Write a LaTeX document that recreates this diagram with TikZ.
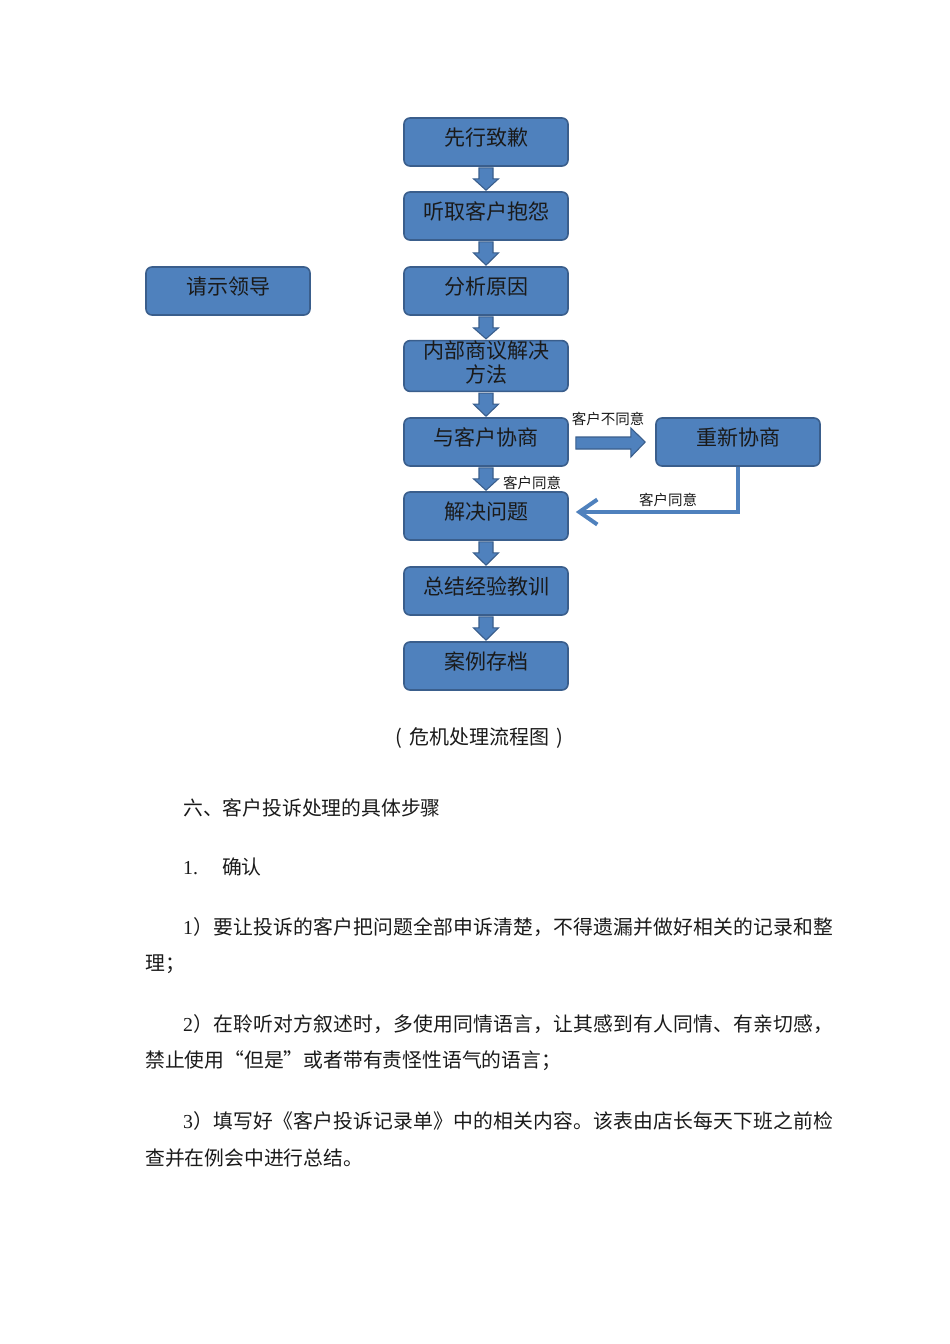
\documentclass[tikz,border=0pt]{standalone}
\usepackage{fontspec}
\usetikzlibrary{calc,arrows.meta}
\newfontfamily\cjk{Noto Sans CJK SC}
\newfontfamily\lat{Liberation Serif}
\definecolor{boxblue}{HTML}{4F81BD}
\definecolor{boxedge}{HTML}{3A5E8C}
\definecolor{txt}{HTML}{1A1A1A}
\makeatletter
\newcommand{\spreadchars}[1]{\@tfor\my@ch:=#1\do{\my@ch\hfil}\unskip}
\makeatother
\newcommand{\fullline}[2]{\hbox to 650pt{{\lat #1}\hfil\spreadchars{#2}}}
\newcommand{\blockdn}[2]{%
  \draw[barrow] ($(#1.south)+(-7,1)$) -- ($(#1.south)+(-7,12)$) -- ($(#1.south)+(-12.5,12)$)
    -- ($(#2.north)+(0,-1)$) -- ($(#1.south)+(12.5,12)$) -- ($(#1.south)+(7,12)$)
    -- ($(#1.south)+(7,1)$) -- cycle;}
\begin{document}
\begin{tikzpicture}[x=1pt,y=-1pt,
  boxbase/.style={draw=boxedge,fill=boxblue,line width=1.6pt,rounded corners=6pt,
    minimum width=164pt,minimum height=48pt,inner sep=0pt,
    font=\cjk\fontsize{21}{24}\selectfont,text=txt,align=center},
  stepbox/.style={boxbase,text height=16pt,text depth=9pt},
  barrow/.style={draw=boxedge,fill=boxblue,line width=1.1pt,line join=miter},
  retarrow/.style={draw=boxblue,line width=4pt,-{Straight Barb[length=18pt,width=25pt]}},
  lbl/.style={font=\cjk\fontsize{14.5}{16}\selectfont,text=txt,inner sep=0pt},
  body/.style={font=\cjk\fontsize{19.8}{22}\selectfont,text=txt,anchor=west,inner sep=0pt}]
\useasboundingbox[fill=white] (0,0) rectangle (950,1344);
% main column
\node[stepbox] (b1) at (486,142) {先行致歉};
\node[stepbox] (b2) at (486,216) {听取客户抱怨};
\node[stepbox] (b3) at (486,291) {分析原因};
\node[boxbase,text depth=9pt] (b4) at (486,366) {内部商议解决\\方法};
\node[stepbox] (b5) at (486,442) {与客户协商};
\node[stepbox] (b6) at (486,516) {解决问题};
\node[stepbox] (b7) at (486,591) {总结经验教训};
\node[stepbox] (b8) at (486,666) {案例存档};
\node[stepbox] (lead) at (228,291) {请示领导};
\node[stepbox] (rn) at (738,442) {重新协商};
% down arrows
\blockdn{b1}{b2}
\blockdn{b2}{b3}
\blockdn{b3}{b4}
\blockdn{b4}{b5}
\blockdn{b5}{b6}
\blockdn{b6}{b7}
\blockdn{b7}{b8}
% right block arrow
\draw[barrow] ($(b5.east)+(7,-5)$) -- ($(b5.east)+(62,-5)$) -- ($(b5.east)+(62,-14)$)
  -- ($(rn.west)+(-10,0)$) -- ($(b5.east)+(62,15)$) -- ($(b5.east)+(62,7)$)
  -- ($(b5.east)+(7,7)$) -- cycle;
% return arrow
\draw[retarrow] (rn.south) |- ($(b6.east)+(7,-4)$);
% labels
\node[lbl] (l1) at (608,419) {客户不同意};
\node[lbl] (l2) at (532,483) {客户同意};
\node[lbl] (l3) at (668,500) {客户同意};
% caption
\node[font=\cjk\fontsize{20}{22}\selectfont,text=txt,inner sep=0pt] (cap) at (479,738) {(\hspace{7pt}危机处理流程图\hspace{7pt})};
% body text
\node[body] (t0) at (183,808) {六、客户投诉处理的具体步骤};
\node[body] (t1) at (183,867) {{\lat 1.}\hspace{24pt}确认};
\node[body] (p1a) at (183,927) {\fullline{1}{）要让投诉的客户把问题全部申诉清楚，不得遗漏并做好相关的记录和整}};
\node[body] (p1b) at (145,964) {理；};
\node[body] (p2a) at (183,1024) {\fullline{2}{）在聆听对方叙述时，多使用同情语言，让其感到有人同情、有亲切感，}};
\node[body] (p2b) at (145,1061) {禁止使用“但是”或者带有责怪性语气的语言；};
\node[body] (p3a) at (183,1121) {\fullline{3}{）填写好《客户投诉记录单》中的相关内容。该表由店长每天下班之前检}};
\node[body] (p3b) at (145,1158) {查并在例会中进行总结。};
\end{tikzpicture}
\end{document}
